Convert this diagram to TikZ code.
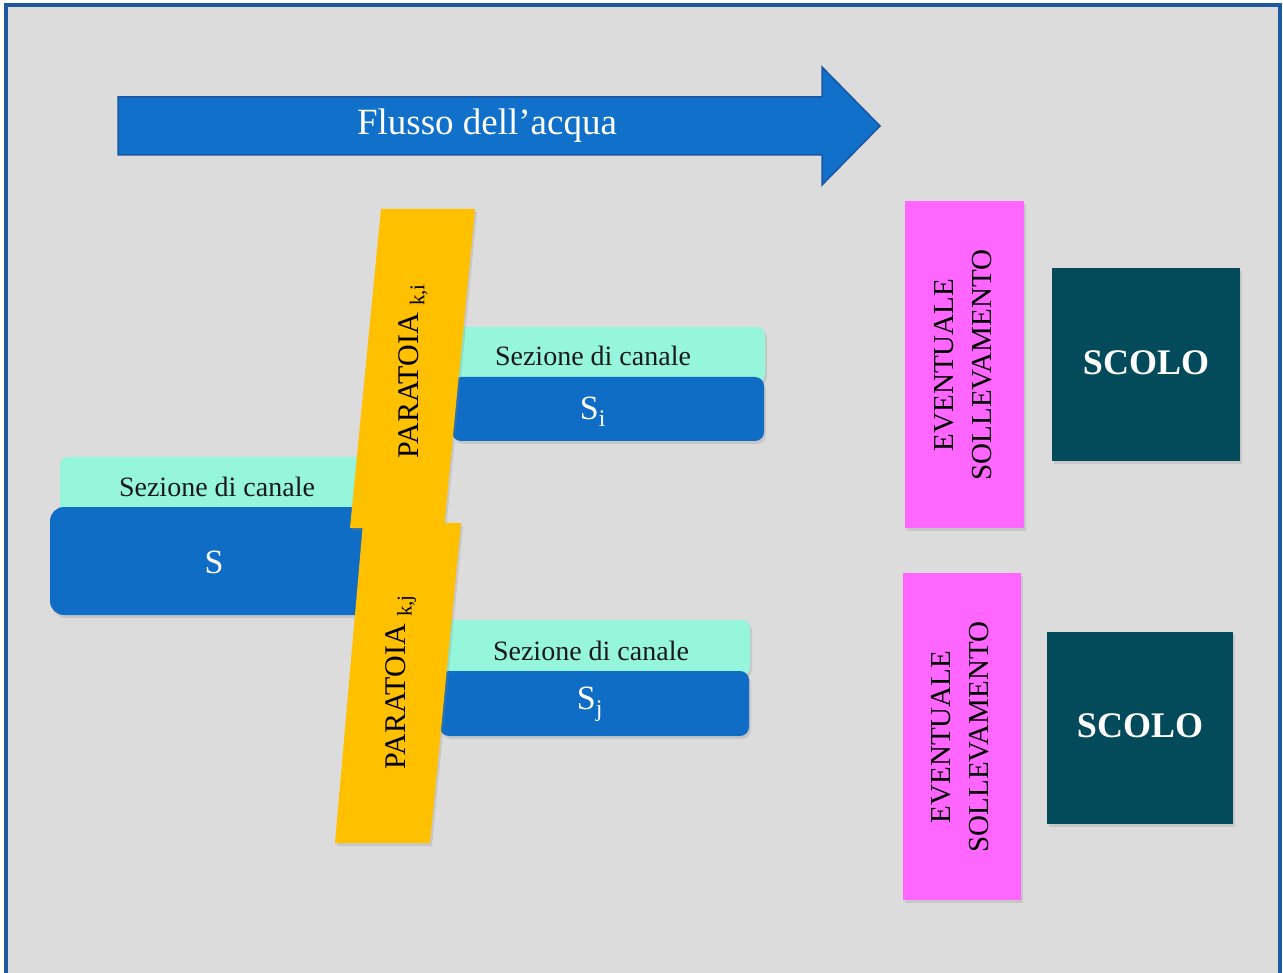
\documentclass[tikz,border=0pt]{standalone}
\usepackage{fontspec}
\setmainfont{Liberation Serif}
\usetikzlibrary{shadows}
\definecolor{bgray}{HTML}{DCDCDC}
\definecolor{frameblue}{HTML}{1D58A0}
\definecolor{arrowblue}{HTML}{1170C9}
\definecolor{arrowedge}{HTML}{1B55A3}
\definecolor{boxblue}{HTML}{106DC5}
\definecolor{aqua}{HTML}{95F6DC}
\definecolor{gateyellow}{HTML}{FFC000}
\definecolor{pinkbox}{HTML}{FF66FF}
\definecolor{tealbox}{HTML}{034A5B}
\definecolor{darktext}{HTML}{1A1A1A}
\tikzset{
  shd/.style={drop shadow={opacity=0.22,shadow xshift=2pt,shadow yshift=-3pt}},
  sezfill/.style={fill=aqua,shd},
  chanfill/.style={fill=boxblue,shd},
  gatefill/.style={fill=gateyellow,shd},
  liftfill/.style={fill=pinkbox,shd},
  drainfill/.style={fill=tealbox,shd},
  seztext/.style={text=darktext,font=\fontsize{28}{32}\selectfont},
  chantext/.style={text=white,font=\fontsize{34}{38}\selectfont},
  gatetext/.style={text=black,rotate=90,font=\fontsize{30}{34}\selectfont},
  lifttext/.style={text=black,rotate=90,align=center,font=\fontsize{29}{38}\selectfont},
  draintext/.style={text=white,font=\bfseries\fontsize{36}{40}\selectfont},
}
\begin{document}
\begin{tikzpicture}[x=1pt,y=-1pt]
\useasboundingbox (0,0) rectangle (1283,973);
\fill[white] (0,0) rectangle (1283,973);
% frame
\filldraw[fill=bgray,draw=frameblue,line width=4pt] (6,5) rectangle (1280,990);
% flow arrow
\filldraw[fill=arrowblue,draw=arrowedge,line width=1.5pt]
  (118,97) -- (822,97) -- (822,67) -- (880,126) -- (822,185) -- (822,155) -- (118,155) -- cycle;
\node[text=white,font=\fontsize{37}{42}\selectfont] (flow) at (487,126) {Flusso dell’acqua};
% left channel
\fill[sezfill,rounded corners=8pt] (60,457) rectangle (380,512);
\node[seztext] (sez0) at (217,487) {Sezione di canale};
\fill[chanfill,rounded corners=14pt] (50,507) rectangle (385,615);
\node[chantext] (s0) at (214,562) {S};
% upper right channel
\fill[sezfill,rounded corners=8pt] (440,327) rectangle (765,382);
\node[seztext] (sez1) at (593,356) {Sezione di canale};
\fill[chanfill,rounded corners=9pt] (452,377) rectangle (764,441);
\node[chantext] (si) at (593,412) {S\textsubscript{i}};
% lower right channel
\fill[sezfill,rounded corners=8pt] (430,620) rectangle (750,675);
\node[seztext] (sez2) at (591,651) {Sezione di canale};
\fill[chanfill,rounded corners=9pt] (440,671) rectangle (749,736);
\node[chantext] (sj) at (590,704) {S\textsubscript{j}};
% gates
\fill[gatefill] (381,209) -- (475,209) -- (444,528) -- (350,528) -- cycle;
\node[gatetext] (gki) at (413,371) {PARATOIA \textsubscript{k,i}};
\fill[gatefill] (363,523) -- (461,523) -- (430,843) -- (335,843) -- cycle;
\node[gatetext] (gkj) at (401,682) {PARATOIA \textsubscript{k,j}};
% lifting
\fill[liftfill] (905,201) rectangle (1024,528);
\node[lifttext] (lift1) at (963,365) {EVENTUALE\\SOLLEVAMENTO};
\fill[liftfill] (903,573) rectangle (1021,900);
\node[lifttext] (lift2) at (960,737) {EVENTUALE\\SOLLEVAMENTO};
% drainage
\fill[drainfill] (1052,268) rectangle (1240,461);
\node[draintext] (scolo1) at (1146,363) {SCOLO};
\fill[drainfill] (1047,632) rectangle (1233,824);
\node[draintext] (scolo2) at (1140,726) {SCOLO};
\end{tikzpicture}
\end{document}
